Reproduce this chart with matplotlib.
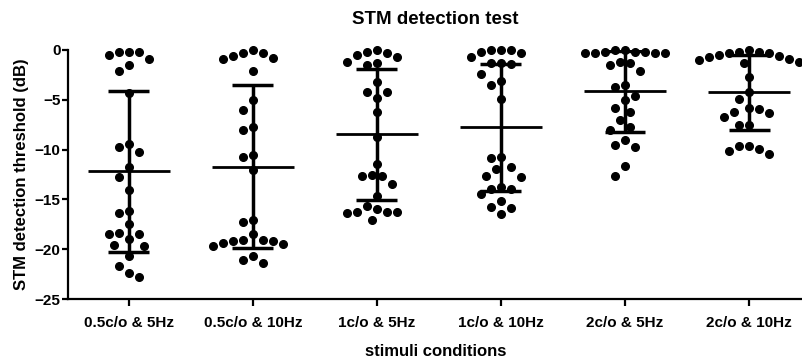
import numpy as np
import matplotlib.pyplot as plt

plt.rcParams['font.family'] = ['Liberation Sans', 'DejaVu Sans']
plt.rcParams['font.weight'] = 'bold'

# STM detection thresholds (dB) per stimulus condition
conditions = ['0.5c/o & 5Hz', '0.5c/o & 10Hz', '1c/o & 5Hz',
              '1c/o & 10Hz', '2c/o & 5Hz', '2c/o & 10Hz']

thr_05c_5hz = [-0.17, -0.5, -0.17, -0.17, -0.94, -1.5, -2.08, -4.35, -9.7,
               -9.44, -10.2, -11.75, -12.75, -14.1, -16.4, -16.2, -17.5, -18.5,
               -19.0, -18.5, -18.4, -19.7, -19.6, -20.7, -21.7, -22.4, -22.8]
thr_05c_10hz = [-0.27, -0.84, -0.6, -0.27, -0.94, -0.05, -2.08, -5.0, -6.0,
                -7.7, -8.0, -10.7, -10.5, -12.05, -17.3, -17.1, -18.5, -19.1,
                -19.2, -19.5, -19.7, -19.35, -19.2, -19.1, -20.65, -21.35, -21.1]
thr_1c_5hz = [-0.5, -1.24, -0.02, -1.5, -1.34, -0.17, -0.67, -0.33, -3.18,
              -4.2, -4.2, -4.85, -6.26, -8.77, -11.45, -12.65, -12.7, -12.55,
              -13.45, -14.66, -16.3, -16.3, -17.1, -16.4, -15.7, -16.3, -16.0]
thr_1c_10hz = [-0.27, -0.03, -0.03, -0.2, -0.03, -0.74, -1.34, -1.44, -1.34,
               -2.41, -3.15, -3.51, -4.95, -10.78, -10.88, -11.7, -11.98, -12.65,
               -12.72, -13.99, -13.72, -13.99, -14.46, -15.13, -15.73, -15.9, -16.47]
thr_2c_5hz = [-0.03, -0.2, -0.2, -0.33, -0.33, -0.33, -0.27, -0.2, -0.03,
              -1.2, -1.5, -1.34, -2.11, -3.55, -3.68, -4.62, -5.05, -5.86,
              -6.19, -7.03, -7.7, -8.03, -9.04, -9.54, -9.7, -11.65, -12.65]
thr_2c_10hz = [-0.17, -0.33, -0.6, -0.94, -1.17, -0.03, -1.27, -1.0, -0.67,
               -0.5, -0.33, -0.17, -2.68, -4.18, -4.95, -5.79, -6.36, -6.19,
               -5.96, -6.76, -7.53, -7.53, -9.6, -9.97, -10.48, -10.14, -9.64]

groups = [thr_05c_5hz, thr_05c_10hz, thr_1c_5hz,
          thr_1c_10hz, thr_2c_5hz, thr_2c_10hz]

fig = plt.figure(figsize=(8.03, 3.62), dpi=100)
ax = fig.add_axes([0.0847, 0.174, 0.9153, 0.688])
ax.set_xlim(-0.49, 5.435)
ax.set_ylim(-25, 0)


def swarm_x(values, center, grid=5.0, w=10.0, h=12.5):
    # simple beeswarm in pixel space: each point goes to the free slot
    # nearest the centre; overlap judged with an elliptical footprint
    to_px = ax.transData.transform
    cx = to_px((center, 0))[0]
    placed = []
    xs = np.zeros(len(values))
    order = np.argsort(-np.asarray(values), kind='stable')
    slots = [0]
    for k in range(1, 15):
        slots += [-k, k]
    for i in order:
        py = to_px((center, values[i]))[1]
        for k in slots:
            px = cx + k * grid
            if all(((px - a) / w) ** 2 + ((py - b) / h) ** 2 >= 0.99 for a, b in placed):
                break
        placed.append((px, py))
        xs[i] = ax.transData.inverted().transform((px, py))[0]
    return xs


for i, vals in enumerate(groups):
    vals = np.asarray(vals)
    m = vals.mean()
    sd = vals.std(ddof=1)
    xs = swarm_x(vals, i)
    ax.plot(xs, vals, 'o', color='black', markersize=5.5, clip_on=False, zorder=3)
    ax.hlines(m, i - 0.33, i + 0.33, color='black', lw=2.0, zorder=4)
    ax.vlines(i, m - sd, m + sd, color='black', lw=2.5, zorder=4)
    ax.hlines([m - sd, m + sd], i - 0.165, i + 0.165, color='black', lw=2.5, zorder=4)

ax.spines['top'].set_visible(False)
ax.spines['right'].set_visible(False)
ax.spines['left'].set_linewidth(1.6)
ax.spines['bottom'].set_linewidth(1.6)

ax.set_yticks([0, -5, -10, -15, -20, -25])
ax.set_xticks(range(len(conditions)))
ax.set_xticklabels(conditions)
ax.tick_params(axis='y', length=4, width=1.6, pad=1.5, labelsize=11)
ax.tick_params(axis='x', length=5, width=1.6, pad=7, labelsize=11)

ax.set_title('STM detection test', fontsize=13.5, fontweight='bold', pad=19)
ax.set_xlabel('stimuli conditions', fontsize=12, fontweight='bold', labelpad=10)
ax.set_ylabel('STM detection threshold (dB)', fontsize=12, fontweight='bold', labelpad=4)

fig.savefig('out.png', dpi=100)
